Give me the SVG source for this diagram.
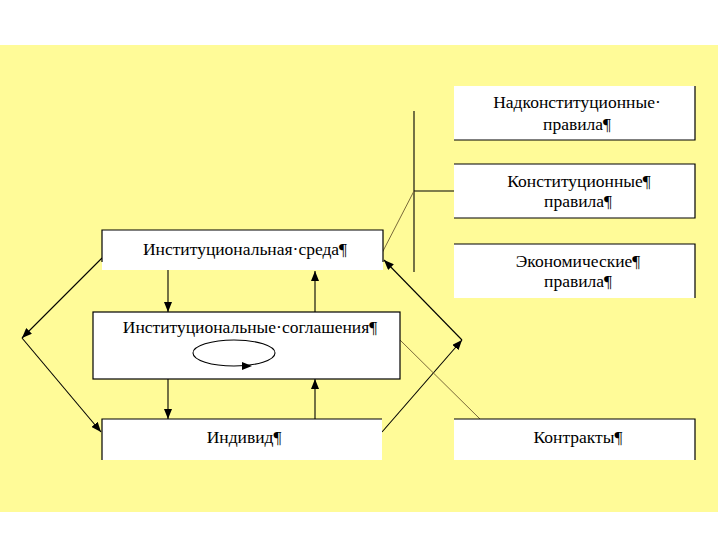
<svg xmlns="http://www.w3.org/2000/svg" width="720" height="540" viewBox="0 0 720 540">
<defs>
<marker id="ah" markerUnits="userSpaceOnUse" markerWidth="10" markerHeight="8" refX="10" refY="4" orient="auto">
<path d="M0,0 L10,4 L0,8 z" fill="#000"/>
</marker>
<style>
.box{fill:#fff;stroke:none}
.b{stroke:#000;stroke-width:1.2;fill:none}
.t{font-family:"Liberation Serif","Times New Roman",serif;font-size:17.5px;fill:#000;text-anchor:middle}
.c{stroke:#000;stroke-width:1.1;fill:none}
.ca{stroke:#000;stroke-width:1.1;fill:none;marker-end:url(#ah)}
.o{stroke:#7a6a3a;stroke-width:1;fill:none}
</style>
</defs>
<rect x="0" y="0" width="720" height="540" fill="#fff"/>
<rect x="0" y="45" width="718" height="467" fill="#FFFB98"/>

<g id="connectors">
<line class="ca" x1="102" y1="258" x2="22" y2="338"/>
<line class="ca" x1="22" y1="338" x2="101" y2="432"/>
<line class="ca" x1="382" y1="432" x2="462" y2="340"/>
<line class="ca" x1="462" y1="340" x2="384" y2="260"/>
<line class="ca" x1="168" y1="270" x2="168" y2="312"/>
<line class="ca" x1="168" y1="379" x2="168" y2="419"/>
<line class="ca" x1="315" y1="312" x2="315" y2="271"/>
<line class="ca" x1="315" y1="419" x2="315" y2="379"/>
<line class="c" x1="414" y1="111" x2="414" y2="272"/>
<line class="c" x1="414" y1="191" x2="454" y2="191"/>
<line class="o" x1="414" y1="191" x2="382" y2="253"/>
<line class="o" x1="400" y1="340" x2="480" y2="419"/>
</g>

<g id="n-nadkonst">
<rect class="box" x="454" y="86" width="241" height="54"/>
<polyline class="b" points="454,140 695,140 695,86"/>
<text class="t" x="577" y="108">Надконституционные·</text>
<text class="t" x="577" y="130">правила¶</text>
</g>

<g id="n-konst">
<rect class="box" x="454" y="164" width="241" height="54"/>
<polyline class="b" points="454,164 695,164 695,218 454,218"/>
<text class="t" x="579" y="187">Конституционные¶</text>
<text class="t" x="578" y="207">правила¶</text>
</g>

<g id="n-econ">
<rect class="box" x="454" y="244" width="241" height="54"/>
<polyline class="b" points="454,244 695,244 695,298"/>
<text class="t" x="578" y="267">Экономические¶</text>
<text class="t" x="578" y="287">правила¶</text>
</g>

<g id="n-sreda">
<rect class="box" x="102" y="230" width="281" height="40"/>
<polyline class="b" points="102,262 102,230 383,230 383,262"/>
<text class="t" x="245" y="255">Институциональная·среда¶</text>
</g>

<g id="n-soglash">
<rect class="box" x="93" y="312" width="307" height="67"/>
<rect class="b" x="93" y="312" width="307" height="67"/>
<text class="t" x="250" y="333">Институциональные·соглашения¶</text>
<ellipse cx="234" cy="353" rx="41" ry="13" class="c"/>
<path d="M242,362 L252,366 L242,370 z" fill="#000"/>
</g>

<g id="n-individ">
<rect class="box" x="102" y="419" width="280" height="41"/>
<polyline class="b" points="102,460 102,419 382,419"/>
<text class="t" x="244" y="443">Индивид¶</text>
</g>

<g id="n-kontrakty">
<rect class="box" x="454" y="419" width="241" height="41"/>
<polyline class="b" points="454,419 695,419 695,460"/>
<text class="t" x="578" y="443">Контракты¶</text>
</g>
</svg>
